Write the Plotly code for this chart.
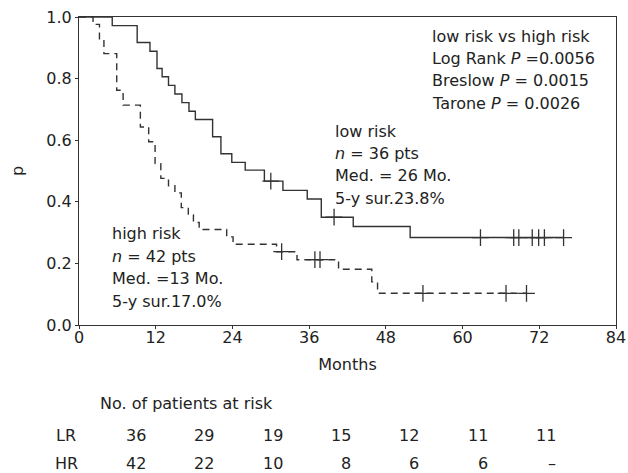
import numpy as np
import plotly.graph_objects as go

# ---------------- data ----------------
# Low risk group: step times (months) and survival after each step
lr_times = [5.2, 9.1, 11.1, 12.2, 13.0, 14.0, 15.0, 16.1, 17.2, 18.2, 20.9, 22.2,
            23.9, 26.0, 29.0, 31.9, 35.7, 37.9, 42.9, 51.8]
lr_surv = [0.972, 0.917, 0.889, 0.833, 0.806, 0.778, 0.750, 0.722, 0.694, 0.667, 0.611,
           0.556, 0.528, 0.503, 0.467, 0.437, 0.409, 0.350, 0.320, 0.284]
lr_censor = [30.0, 39.9, 62.8, 68.0, 68.8, 70.9, 71.9, 72.8, 75.8]
lr_end = 75.8

# High risk group
hr_times = [2.2, 3.2, 3.9, 5.9, 6.9, 9.6, 10.9, 11.9, 12.8, 14.0, 15.0, 16.0, 17.1,
            17.9, 18.8, 23.1, 24.1, 30.9, 34.1, 40.6, 45.8, 46.7]
hr_surv = [0.976, 0.929, 0.881, 0.762, 0.714, 0.643, 0.595, 0.524, 0.476, 0.452, 0.429,
           0.381, 0.357, 0.333, 0.310, 0.286, 0.262, 0.238, 0.212, 0.181, 0.140, 0.103]
hr_censor = [31.7, 36.9, 37.7, 53.8, 66.8, 70.0]
hr_end = 70.0

x_ticks = [0, 12, 24, 36, 48, 60, 72, 84]
y_ticks = [0.0, 0.2, 0.4, 0.6, 0.8, 1.0]

stats_lines = ["low risk vs high risk",
               "Log Rank <i>P</i> =0.0056",
               "Breslow <i>P</i> = 0.0015",
               "Tarone <i>P</i> = 0.0026"]
lr_label = ["low risk", "<i>n</i> = 36 pts", "Med. = 26 Mo.", "5-y sur.23.8%"]
hr_label = ["high risk", "<i>n</i> = 42 pts", "Med. =13 Mo.", "5-y sur.17.0%"]

risk_title = "No. of patients at risk"
risk_groups = ["LR", "HR"]
lr_at_risk = ["36", "29", "19", "15", "12", "11", "11"]
hr_at_risk = ["42", "22", "10", "8", "6", "6", "\u2013"]

# ---------------- helpers ----------------
FONT = "DejaVu Sans"
INK = "#222222"
LINE = "#333333"

W, H = 628, 473
L, R, T, B = 79, 12, 17, 148
PW, PH = W - L - R, H - T - B


def px(xp):
    return (xp - L) / PW


def py(yp):
    return (H - B - yp) / PH


def step_xy(times, surv, end):
    xs = [0.0] + list(times) + [end]
    ys = [1.0] + list(surv) + [surv[-1]]
    return xs, ys


def surv_at(times, surv, t):
    idx = np.searchsorted(np.asarray(times), t, side="right")
    return 1.0 if idx == 0 else surv[idx - 1]


fig = go.Figure()

for times, surv, end, cens, dash, name in [
    (hr_times, hr_surv, hr_end, hr_censor, "7px,5px", "high risk"),
    (lr_times, lr_surv, lr_end, lr_censor, "solid", "low risk"),
]:
    xs, ys = step_xy(times, surv, end)
    fig.add_trace(go.Scatter(x=xs, y=ys, mode="lines", line_shape="hv",
                             line=dict(color=LINE, width=1.4, dash=dash),
                             name=name, showlegend=False, hoverinfo="skip"))
    fig.add_trace(go.Scatter(x=cens, y=[surv_at(times, surv, c) for c in cens],
                             mode="markers",
                             marker=dict(symbol="cross-thin", size=12,
                                         line=dict(color=LINE, width=1.3)),
                             showlegend=False, hoverinfo="skip"))

ann = []
for i, t in enumerate(stats_lines):
    ann.append(dict(x=px(430), y=py(36 + i * 22.5), text=t))
for i, t in enumerate(lr_label):
    ann.append(dict(x=px(333), y=py(131 + i * 22.5), text=t))
for i, t in enumerate(hr_label):
    ann.append(dict(x=px(110), y=py(233.5 + i * 22.5), text=t))
ann.append(dict(x=px(98), y=py(403), text=risk_title))
for g, row_y in zip(risk_groups, [435, 463]):
    ann.append(dict(x=px(66), y=py(row_y), text=g, xanchor="center"))
for j, (a, b) in enumerate(zip(lr_at_risk, hr_at_risk)):
    xr = 148 + j * 68.3
    ann.append(dict(x=px(xr), y=py(435), text=a, xanchor="right"))
    ann.append(dict(x=px(xr), y=py(463), text=b, xanchor="right"))

annotations = []
for a in ann:
    d = dict(xref="paper", yref="paper", showarrow=False, xanchor="left",
             yanchor="middle", font=dict(family=FONT, size=16, color=INK))
    d.update(a)
    annotations.append(d)

fig.update_layout(
    width=W, height=H,
    margin=dict(l=L, r=R, t=T, b=B, pad=0),
    paper_bgcolor="white", plot_bgcolor="white",
    font=dict(family=FONT, size=16, color=INK),
    annotations=annotations,
    xaxis=dict(range=[0, 84], tickvals=x_ticks, ticks="outside", ticklen=3,
               tickcolor=LINE, showline=True, linecolor=LINE, linewidth=1,
               mirror=True, showgrid=False, zeroline=False, automargin=False,
               ticklabelstandoff=-5,
               title=dict(text="Months", standoff=12,
                          font=dict(family=FONT, size=16, color=INK))),
    yaxis=dict(range=[0, 1], tickvals=y_ticks, tickformat=".1f", ticks="outside",
               ticklen=3, tickcolor=LINE, showline=True, linecolor=LINE,
               linewidth=1, mirror=True, showgrid=False, zeroline=False,
               automargin=False,
               title=dict(text="p", standoff=18,
                          font=dict(family=FONT, size=16, color=INK))),
)

fig.write_html("out.html")
